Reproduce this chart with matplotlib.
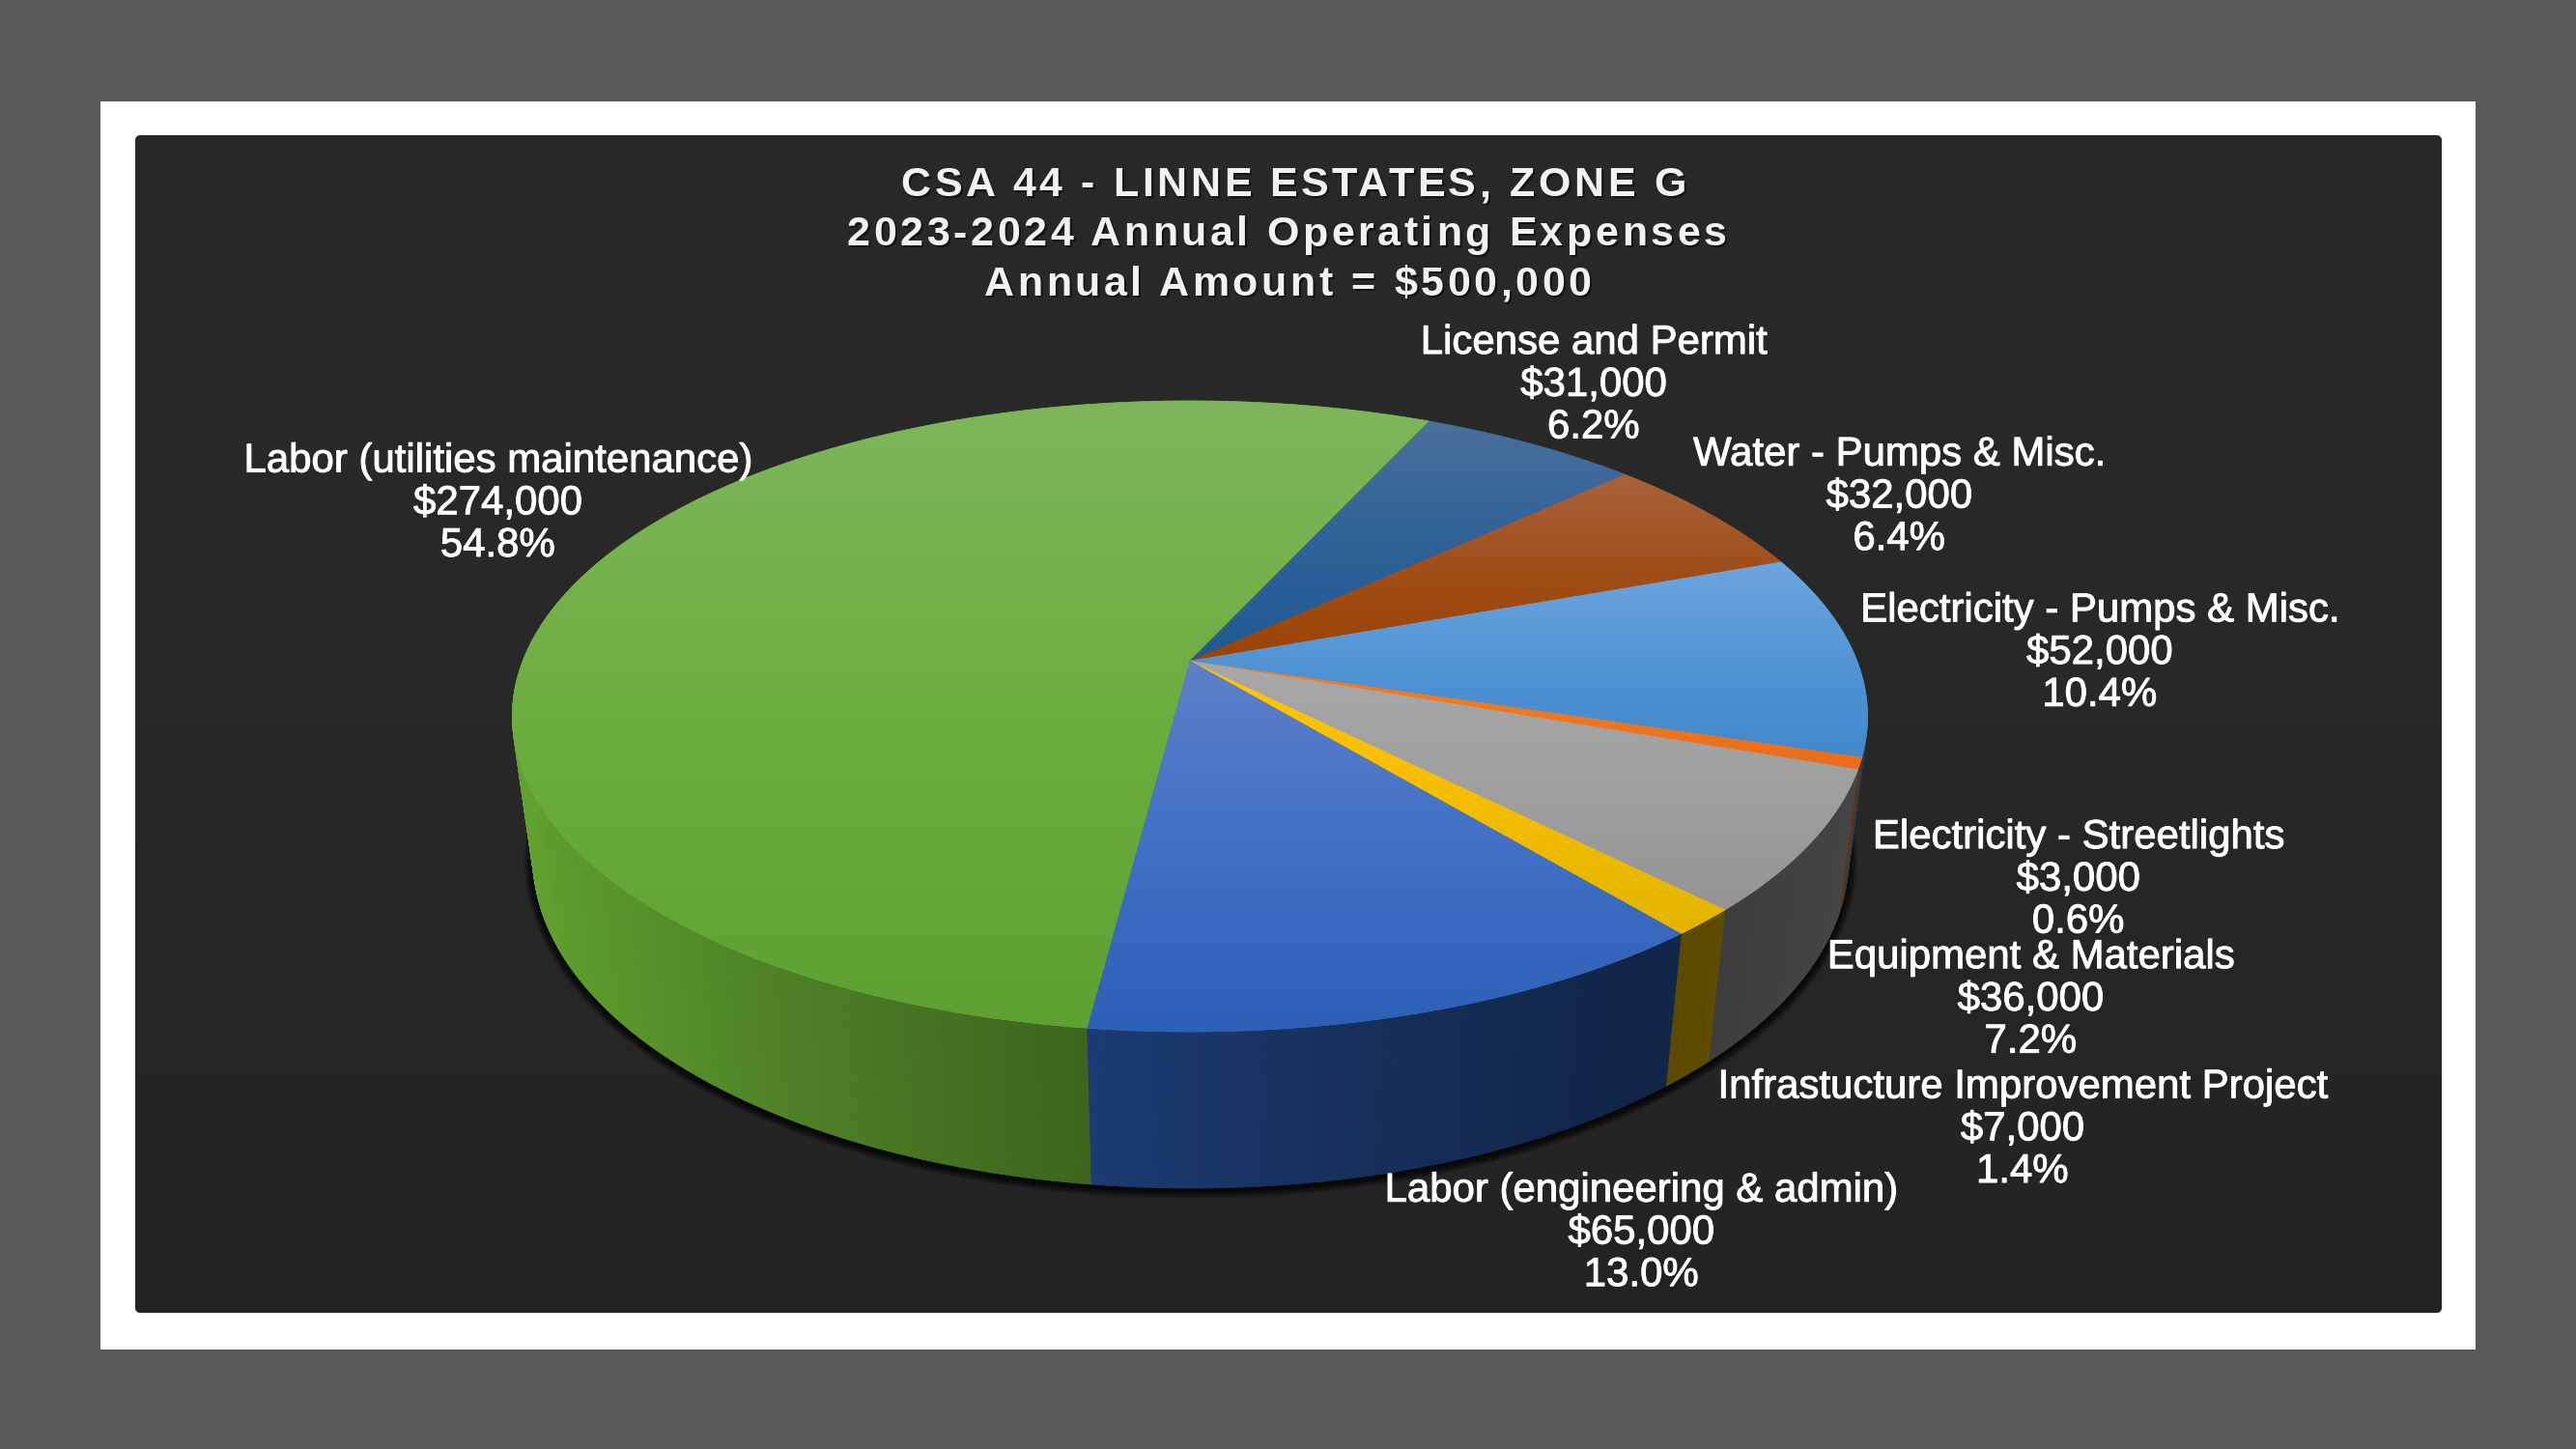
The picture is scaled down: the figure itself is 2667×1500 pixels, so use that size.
import numpy as np
import matplotlib
matplotlib.use("Agg")
import matplotlib.pyplot as plt
from matplotlib import text as mtext
from matplotlib.collections import PolyCollection
from matplotlib.colors import LinearSegmentedColormap, to_rgb
from matplotlib.patches import FancyBboxPatch, Polygon, Rectangle
from matplotlib.transforms import IdentityTransform
import matplotlib.patheffects as pe

categories = ["Labor (utilities maintenance)", "License and Permit", "Water - Pumps & Misc.",
              "Electricity - Pumps & Misc.", "Electricity - Streetlights", "Equipment & Materials",
              "Infrastucture Improvement Project", "Labor (engineering & admin)"]
amounts = [274000, 31000, 32000, 52000, 3000, 36000, 7000, 65000]
title_lines = ["CSA 44 - LINNE ESTATES, ZONE G", "2023-2024 Annual Operating Expenses",
               "Annual Amount = $500,000"]
title_x = [1339, 1332, 1333]
title_y = [203, 254.5, 306]

# slice gradient stops (top, middle, bottom)
face_stops = [("#7FB65C", "#6DAE40", "#5FA033"), ("#4A6F9B", "#2F6299", "#1F5A91"),
              ("#A9623A", "#A04F1A", "#9B4303"), ("#6FA6DE", "#5295D5", "#4288CC"),
              ("#F47C20", "#F0781F", "#E86D1C"), ("#A8A8A8", "#A0A0A0", "#959595"),
              ("#FFC60A", "#F5BE00", "#E3B400"), ("#5F80C9", "#4170C6", "#2D5FB6")]
wall_base = ["#6DB436", "#2F6299", "#A04F1A", "#5295D5", "#F0781F", "#A5A5A5", "#FFCD00", "#326ACD"]
label_pos = [(303, 305), (970, 233), (1156, 301), (1278, 396), (1265, 534), (1236, 607), (1231, 686), (999, 749)]

W, H = 2667, 1500
SH = 2667 / 1568
FIG_BG, PANEL_TOP, PANEL_BOT = "#595959", "#282828", "#232323"

# perspective geometry of the pie
APEX_X, APEX_Y = 1232.0, 684.0
K, A_, B_ = 0.176, 690.6, 316.4
START = 187.3
VX, VY, E = 1260.0, 5800.0, 0.0292


def project(theta_deg):
    t = np.radians(theta_deg)
    x, y = np.sin(t), np.cos(t)
    w = 1 + K * y
    return APEX_X + A_ * x / w, APEX_Y - B_ * y / w, w


def project_low(theta_deg):
    X, Y, w = project(theta_deg)
    t = E / (w + E)
    return X + (VX - X) * t, Y + (VY - Y) * t


def shade(x):
    return np.interp(x, [531, 800, 1125, 1400, 1700, 1780, 1850, 1925],
                     [0.90, 0.72, 0.56, 0.45, 0.35, 0.37, 0.40, 0.42])


class SpacedText(mtext.Text):
    """One text whose characters are set with extra tracking."""
    tracking = 3.6

    def draw(self, renderer):
        s = self.get_text()
        fp = self.get_fontproperties()
        width = lambda c: renderer.get_text_width_height_descent(c, fp, False)[0] if c else 0.0
        xs = []
        for i, c in enumerate(s):
            base = width(s[:i] + c) - width(c) if c != " " else width(s[:i] + "n") - width("n")
            xs.append(base + i * self.tracking)
        total = width(s) + (len(s) - 1) * self.tracking
        px, py = self.get_transform().transform(self.get_position())
        for dx, dy, col, alpha in ((2, -2, "black", 0.55), (0, 0, self.get_color(), 1.0)):
            for x, c in zip(xs, s):
                if c == " ":
                    continue
                t = mtext.Text(px - total / 2 + x + dx, py + dy, c, fontproperties=fp, color=col, alpha=alpha,
                               ha="left", va="baseline", transform=IdentityTransform())
                t.set_figure(self.get_figure())
                t.draw(renderer)


fig = plt.figure(figsize=(W / 100, H / 100), dpi=100, facecolor=FIG_BG)
ax = fig.add_axes([0, 0, 1, 1])
ax.set_axis_off()

# frame and panel
ax.add_patch(Rectangle((104, 105), 2459, 1292, fc="white", ec="none", zorder=1))
panel = FancyBboxPatch((144, 144), 2380, 1211, boxstyle="round,pad=4,rounding_size=6",
                       fc=PANEL_BOT, ec="none", zorder=2)
ax.add_patch(panel)
panel_cmap = LinearSegmentedColormap.from_list("panel", [PANEL_TOP, PANEL_TOP, PANEL_BOT])
im = ax.imshow(np.linspace(0, 1, 256)[:, None], cmap=panel_cmap, extent=(140, 2528, 1359, 140),
               aspect="auto", zorder=2.1)
im.set_clip_path(panel)

values = np.array(amounts, dtype=float)
total = values.sum()
edges = START + np.concatenate([[0], np.cumsum(values)]) / total * 360.0

# shadow under the pie
full = np.linspace(0, 360, 361)
lx, ly = project_low(full)
cx, cy = (lx.min() + lx.max()) / 2, (ly.min() + ly.max()) / 2
a, b = (lx.max() - lx.min()) / 2, (ly.max() - ly.min()) / 2
for d in range(9, 0, -1):
    ax.fill(cx + (lx - cx) * (a + d) / a, cy + 2 + (ly - cy) * (b + d) / b, color="black", alpha=0.13, lw=0, zorder=3)

# side walls
for i in range(len(values)):
    th = np.linspace(edges[i], edges[i + 1], max(3, int((edges[i + 1] - edges[i]) * 3)))
    tx, ty, _ = project(th)
    bx, by = project_low(th)
    polys, cols = [], []
    base = np.array(to_rgb(wall_base[i]))
    for j in range(len(th) - 1):
        polys.append([(tx[j], ty[j]), (tx[j + 1], ty[j + 1]), (bx[j + 1], by[j + 1]), (bx[j], by[j])])
        cols.append(tuple(base * shade((tx[j] + tx[j + 1]) / 2)))
    ax.add_collection(PolyCollection(polys, facecolors=cols, edgecolors=cols, linewidths=0.6, zorder=4))

# top face
for i in range(len(values)):
    th = np.linspace(edges[i], edges[i + 1], max(8, int((edges[i + 1] - edges[i]) * 6)))
    tx, ty, _ = project(th)
    px = np.concatenate([[APEX_X], tx])
    py = np.concatenate([[APEX_Y], ty])
    clip = Polygon(np.column_stack([px, py]), closed=True, fc=face_stops[i][1], ec=face_stops[i][1],
                   lw=0.5, zorder=5)
    ax.add_patch(clip)
    cmap = LinearSegmentedColormap.from_list(f"s{i}", face_stops[i])
    g = ax.imshow(np.linspace(0, 1, 256)[:, None], cmap=cmap, aspect="auto", zorder=5.1,
                  extent=(px.min(), px.max(), py.max(), py.min()), interpolation="bilinear")
    g.set_clip_path(clip)

# data labels
for i, (name, amt) in enumerate(zip(categories, amounts)):
    lab = f"{name}\n${amt:,}\n{amt / total * 100:.1f}%"
    ax.text(label_pos[i][0] * SH, label_pos[i][1] * SH + 2.5, lab, ha="center", va="center", ma="center", color="white",
            fontfamily="Liberation Sans", fontsize=30.2, linespacing=1.12, zorder=10,
            path_effects=[pe.withStroke(linewidth=0.7, foreground="white")])

# title
for line, tx_, ty_ in zip(title_lines, title_x, title_y):
    t = SpacedText(tx_, ty_, line, color="#F2F2F2", ha="center", va="baseline", zorder=10,
                   fontfamily="Liberation Sans", fontsize=31, fontweight="bold", transform=ax.transData)
    ax.add_artist(t)

ax.set_xlim(0, W)
ax.set_ylim(H, 0)
fig.savefig("out.png", dpi=100, facecolor=FIG_BG)
